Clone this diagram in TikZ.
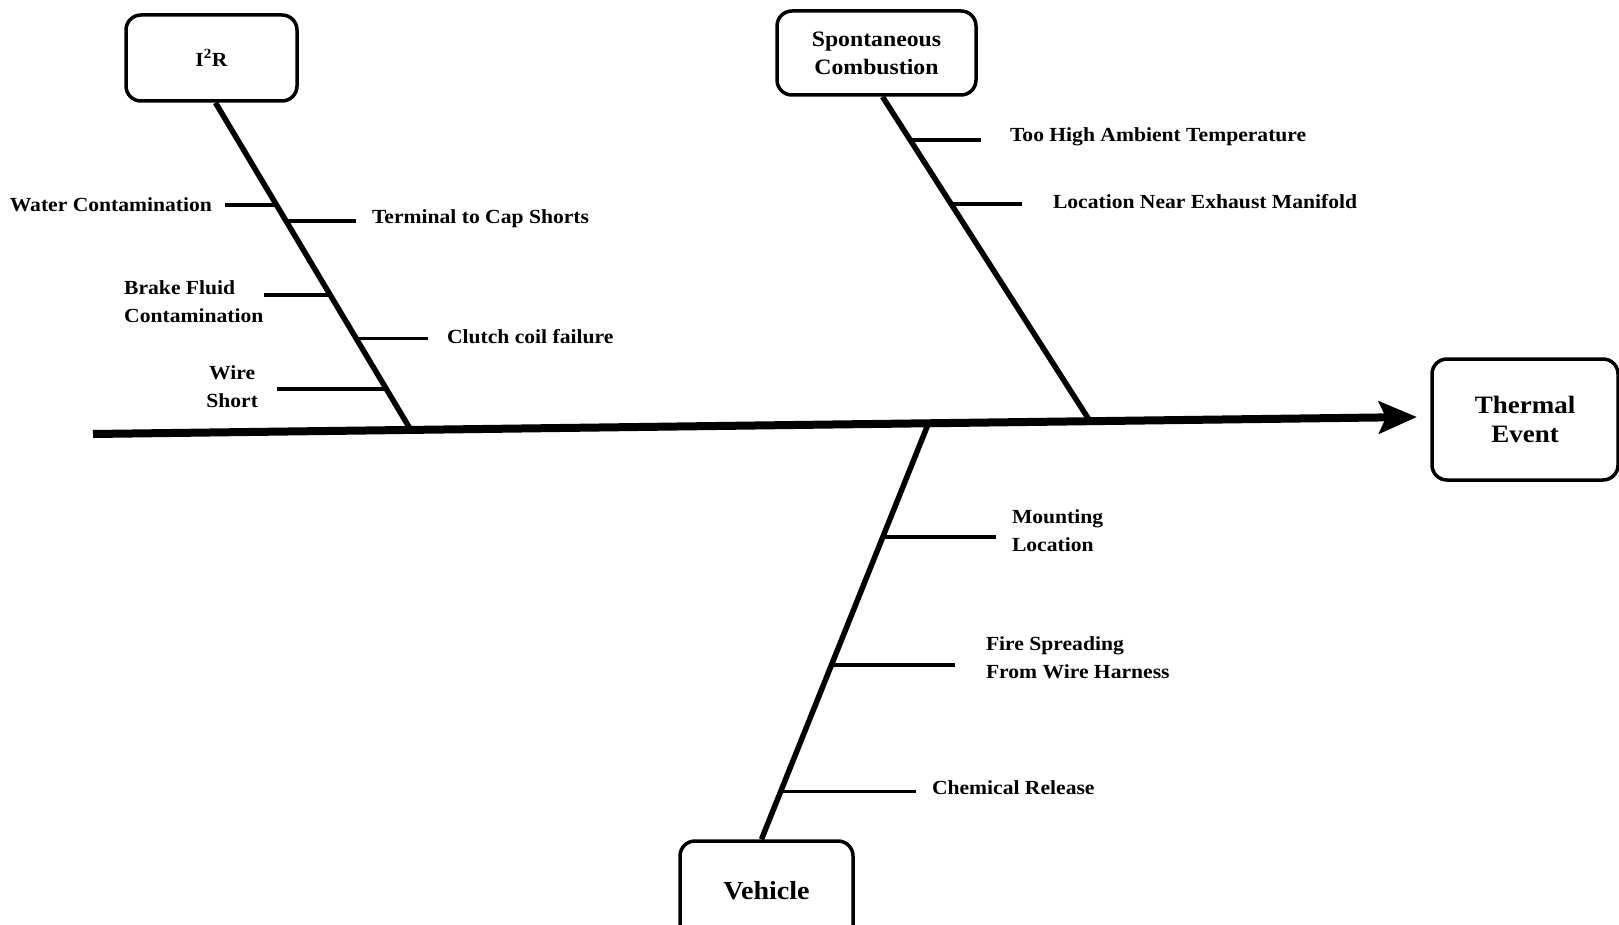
\documentclass[tikz,border=0pt]{standalone}
\usepackage{fontspec}
\setmainfont{Liberation Serif}[FakeStretch=1.08]
\usetikzlibrary{arrows.meta}
\begin{document}
\begin{tikzpicture}[x=1pt,y=-1pt,
  catbox/.style={draw, line width=3.5pt, rounded corners=15pt, inner sep=0pt,
                 align=center, font=\bfseries},
  lbl/.style={inner sep=0pt, font=\fontsize{20}{28}\selectfont\bfseries},
  spine/.style={line width=8pt, -{Stealth[length=38pt,width=32pt,inset=7pt]}},
  bone/.style={line width=5.5pt},
  twig/.style={line width=3.5pt}]
\useasboundingbox (0,0) rectangle (1619,925);
\clip (0,0) rectangle (1619,925);

% category boxes and the effect
\node[catbox, minimum width=171pt, minimum height=86pt,
      font=\fontsize{20}{24}\selectfont\bfseries] (i2r) at (211.5,58) {I\textsuperscript{2}R};
\node[catbox, minimum width=199pt, minimum height=84pt,
      font=\fontsize{22}{28}\selectfont\bfseries] (spc) at (876.5,53) {Spontaneous\\Combustion};
\node[catbox, minimum width=186pt, minimum height=121pt,
      font=\fontsize{25}{29}\selectfont\bfseries] (evt) at (1525,419.5) {Thermal\\Event};
\node[catbox, minimum width=173pt, minimum height=100pt,
      font=\fontsize{26}{30}\selectfont\bfseries] (veh) at (766.5,891) {Vehicle};

% main spine with junction points
\coordinate (tail) at (93,434);
\coordinate (head) at (1417,417);
\draw[spine] (tail) -- (head)
  coordinate[pos=0.240] (j1)
  coordinate[pos=0.631] (j3)
  coordinate[pos=0.753] (j2);

% category bones with branch points
\draw[bone] ([xshift=4pt]i2r.south) -- (j1)
  coordinate[pos=0.313] (a1)
  coordinate[pos=0.362] (a2)
  coordinate[pos=0.587] (a3)
  coordinate[pos=0.720] (a4)
  coordinate[pos=0.875] (a5);
\draw[bone] ([xshift=6pt]spc.south) -- (j2)
  coordinate[pos=0.133] (s1)
  coordinate[pos=0.330] (s2);
\draw[bone] (j3) -- ([xshift=-5pt]veh.north)
  coordinate[pos=0.273] (v1)
  coordinate[pos=0.581] (v2)
  coordinate[pos=0.885] (v3);

% causes: I2R
\node[lbl, anchor=east, outer xsep=13pt] (wc) at (225,205) {Water Contamination};
\node[lbl, anchor=west, outer xsep=16pt] (tc) at (356,219) {Terminal to Cap Shorts};
\node[lbl, anchor=west, align=left] (bf) at (124,302) {Brake Fluid\\Contamination};
\node[lbl, anchor=west, outer xsep=19pt] (cc) at (428,337) {Clutch coil failure};
\node[lbl, anchor=east, align=center, outer xsep=19pt] (ws) at (277,387) {Wire\\Short};
\draw[twig] (a1) -- (a1 -| wc.east);
\draw[twig] (a2) -- (a2 -| tc.west);
\draw[twig] (a3) -- (a3 -| bf.east);
\draw[twig] (a4) -- (a4 -| cc.west);
\draw[twig] (a5) -- (a5 -| ws.east);

% causes: spontaneous combustion
\node[lbl, anchor=west, outer xsep=29pt] (ht) at (981,137) {Too High Ambient Temperature};
\node[lbl, anchor=west, outer xsep=31pt] (ln) at (1022,202) {Location Near Exhaust Manifold};
\draw[twig] (s1) -- (s1 -| ht.west);
\draw[twig] (s2) -- (s2 -| ln.west);

% causes: vehicle
\node[lbl, anchor=west, align=left, outer xsep=16pt] (ml) at (996,531) {Mounting\\Location};
\node[lbl, anchor=west, align=left, outer xsep=31pt] (fs) at (955,658) {Fire Spreading\\From Wire Harness};
\node[lbl, anchor=west, outer xsep=16pt] (cr) at (916,788) {Chemical Release};
\draw[twig] (v1) -- (v1 -| ml.west);
\draw[twig] (v2) -- (v2 -| fs.west);
\draw[twig] (v3) -- (v3 -| cr.west);
\end{tikzpicture}
\end{document}
